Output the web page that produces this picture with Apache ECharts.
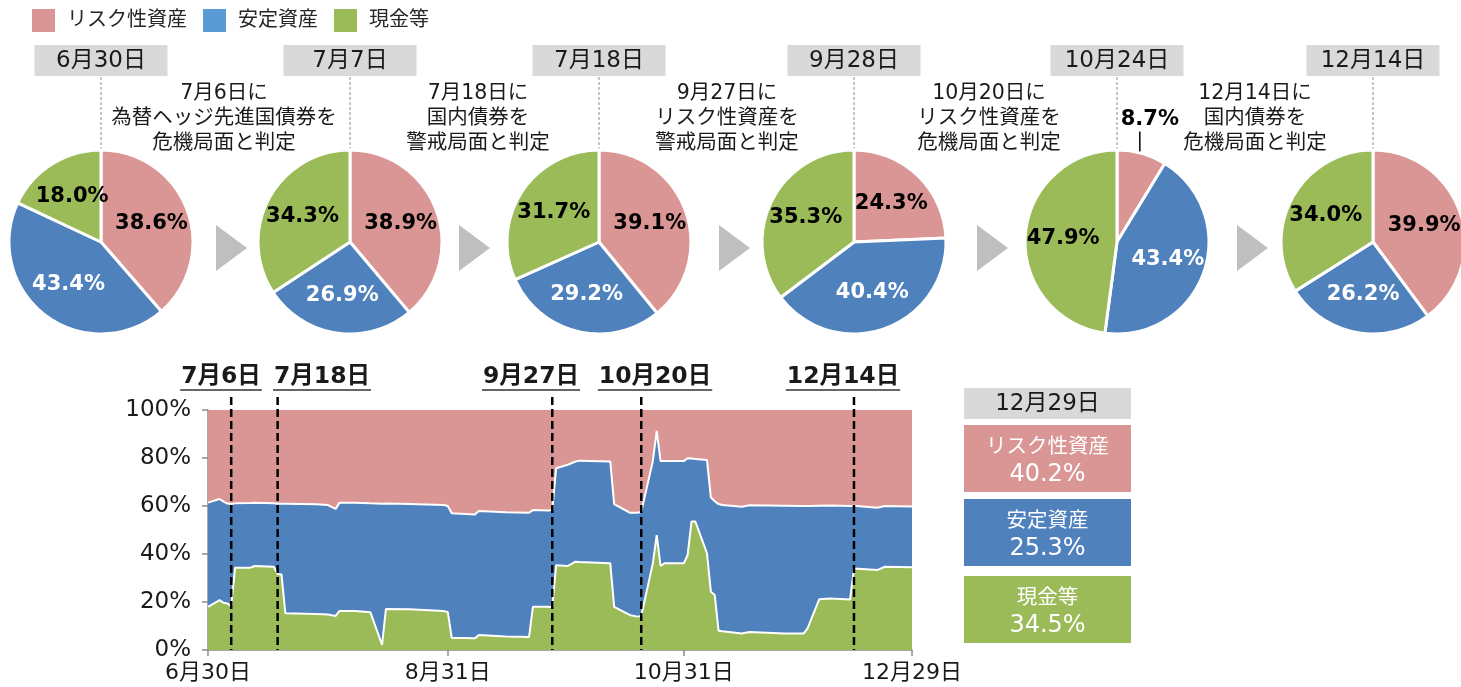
<!DOCTYPE html>
<html><head><meta charset="utf-8">
<script src="https://cdn.jsdelivr.net/npm/echarts@6/dist/echarts.min.js"></script>
<style>html,body{margin:0;padding:0;background:#fff;}#c{width:1461px;height:687px;}</style>
</head><body><div id="c"></div>
<script>
// ---------- DATA ----------
const seriesNames = ['リスク性資産', '安定資産', '現金等'];
const pieDates = ['6月30日', '7月7日', '7月18日', '9月28日', '10月24日', '12月14日'];
const pieRisk   = [38.6, 38.9, 39.1, 24.3, 8.7, 39.9];
const pieStable = [43.4, 26.9, 29.2, 40.4, 43.4, 26.2];
const pieCash   = [18.0, 34.3, 31.7, 35.3, 47.9, 34.0];
const notes = [
  '7月6日に\n為替ヘッジ先進国債券を\n危機局面と判定',
  '7月18日に\n国内債券を\n警戒局面と判定',
  '9月27日に\nリスク性資産を\n警戒局面と判定',
  '10月20日に\nリスク性資産を\n危機局面と判定',
  '12月14日に\n国内債券を\n危機局面と判定'
];
const dates = ['2023-06-30','2023-07-03','2023-07-04','2023-07-05','2023-07-06','2023-07-07','2023-07-11','2023-07-12','2023-07-17','2023-07-18','2023-07-19','2023-07-20','2023-07-28','2023-07-31','2023-08-02','2023-08-03','2023-08-07','2023-08-11','2023-08-14','2023-08-15','2023-08-21','2023-08-30','2023-08-31','2023-09-01','2023-09-07','2023-09-08','2023-09-15','2023-09-21','2023-09-22','2023-09-26','2023-09-27','2023-09-28','2023-10-01','2023-10-03','2023-10-04','2023-10-12','2023-10-13','2023-10-17','2023-10-19','2023-10-20','2023-10-23','2023-10-24','2023-10-25','2023-10-26','2023-10-31','2023-11-01','2023-11-02','2023-11-03','2023-11-06','2023-11-07','2023-11-08','2023-11-09','2023-11-10','2023-11-15','2023-11-17','2023-11-26','2023-12-01','2023-12-02','2023-12-05','2023-12-08','2023-12-13','2023-12-14','2023-12-20','2023-12-22','2023-12-29'];
const risk = [38.6,37.1,38.2,39.0,39.2,38.9,38.7,38.6,38.9,39.1,39.1,39.1,39.3,39.6,41.2,38.6,38.6,38.9,39.1,39.0,39.2,39.6,40.0,43.0,43.5,42.1,42.6,42.8,41.7,41.9,41.7,24.3,22.8,21.5,21.1,21.5,39.2,42.8,42.8,42.5,21.3,8.7,21.3,21.3,21.3,20.1,20.2,20.4,20.8,36.5,38.0,39.2,39.6,40.3,39.7,39.9,40.0,40.0,39.9,39.8,40.0,39.9,40.7,40.0,40.2];
const stable = [43.4,42.1,42.1,41.6,42.5,26.8,27.0,26.4,26.4,29.2,29.4,45.6,45.7,45.6,44.6,45.1,45.1,45.4,58.8,43.9,43.8,44.2,44.2,51.9,51.6,51.7,51.8,51.8,40.3,40.1,40.5,40.4,42.2,41.7,42.2,42.4,42.8,42.6,43.3,43.3,42.6,43.4,43.7,42.6,42.6,40.3,26.3,26.1,38.9,39.2,39.1,52.8,52.6,52.8,52.8,53.2,53.1,51.0,39.0,38.7,39.0,26.1,26.0,25.3,25.3];
const cash = [18.0,20.8,19.7,19.4,18.3,34.3,34.3,35.0,34.7,31.7,31.5,15.3,15.0,14.8,14.2,16.3,16.3,15.7,2.1,17.1,17.0,16.2,15.8,5.1,4.9,6.2,5.6,5.4,18.0,18.0,17.8,35.3,35.0,36.8,36.7,36.1,18.0,14.6,13.9,14.2,36.1,47.9,35.0,36.1,36.1,39.6,53.5,53.5,40.3,24.3,22.9,8.0,7.8,6.9,7.5,6.9,6.9,9.0,21.1,21.5,21.0,34.0,33.3,34.7,34.5];
const eventDates = ['2023-07-06','2023-07-18','2023-09-27','2023-10-20','2023-12-14'];
const eventLabels = ['7月6日','7月18日','9月27日','10月20日','12月14日'];
const xTickDates = ['2023-06-30','2023-08-31','2023-10-31','2023-12-29'];
const xTickLabels = ['6月30日','8月31日','10月31日','12月29日'];
const lastDateLabel = '12月29日';

// ---------- STYLE / LAYOUT ----------
const COL = { risk: '#DA9694', stable: '#4F81BD', cash: '#9BBB59', legendStable: '#5B9BD5' };
const FONT = '"DejaVu Sans", "Noto Sans CJK JP", sans-serif';
const TXT = '#1a1a1a';
const pieCX = [101, 350, 599, 854, 1117, 1373];
const pieCY = 242, pieR = 92;
const noteCX = [224, 478, 727, 989, 1255];
const arrowX = [216, 459, 719, 977, 1237];
const eventLabelCX = [221, 322, 531, 655, 843];

const dayOf = s => Math.round((Date.parse(s) - Date.parse(dates[0])) / 86400000);
const xTickDays = xTickDates.map(dayOf);
const r1 = v => Math.round(v * 10) / 10;

const chart = echarts.init(document.getElementById('c'), null, { renderer: 'canvas' });

// layered areas: each series' top edge is its cumulative share (cash at bottom)
function areaSeries(name, vals, color, z, lineW) {
  return {
    type: 'line', name, z,
    data: dates.map((d, i) => [dayOf(d), vals[i]]),
    symbol: 'none', showSymbol: false, clip: true,
    lineStyle: { color: lineW ? '#fff' : color, width: lineW },
    areaStyle: { color, opacity: 1, origin: 'start' },
    itemStyle: { color },
    emphasis: { disabled: true }, silent: true
  };
}
const cumStable = dates.map((d, i) => r1(cash[i] + stable[i]));
const cumRisk = dates.map((d, i) => r1(cash[i] + stable[i] + risk[i]));

const series = [
  areaSeries(seriesNames[0], cumRisk, COL.risk, 2, 0),
  areaSeries(seriesNames[1], cumStable, COL.stable, 3, 2),
  areaSeries(seriesNames[2], cash, COL.cash, 4, 2)
];

pieDates.forEach((pd, k) => {
  const c = [pieCX[k], pieCY];
  const small = pieRisk[k] < 15;
  series.push({
    type: 'pie', name: pd, center: c, radius: pieR, startAngle: 90, clockwise: true,
    silent: true, emphasis: { disabled: true },
    itemStyle: { borderColor: '#fff', borderWidth: 3 },
    label: { show: true, position: 'inside', formatter: p => p.value.toFixed(1) + '%',
      fontFamily: FONT, fontWeight: 'bold', fontSize: 21 },
    labelLine: { show: false },
    data: [
      { name: seriesNames[0], value: pieRisk[k], itemStyle: { color: COL.risk },
        label: small ? { color: '#000', position: 'outside' } : { color: '#000' },
        labelLine: small ? { show: true, length: 20, length2: 0, lineStyle: { color: '#000', width: 1.5 } } : { show: false } },
      { name: seriesNames[1], value: pieStable[k], itemStyle: { color: COL.stable }, label: { color: '#fff' } },
      { name: seriesNames[2], value: pieCash[k], itemStyle: { color: COL.cash }, label: { color: '#000' } }
    ],
    labelLayout: p => {
      const lr = p.labelRect;
      if (p.labelLinePoints && p.dataIndex === 0 && small) {
        const s = p.labelLinePoints[0];
        return { x: s[0] + 8, y: s[1] - 34, align: 'center', verticalAlign: 'middle',
          labelLinePoints: [[s[0] - 2, s[1] - 1], [s[0] - 2, s[1] - 22], [s[0] - 2, s[1] - 22]] };
      }
      const lx = lr.x + lr.width / 2, ly = lr.y + lr.height / 2;
      return { x: c[0] + (lx - c[0]) * 1.1, y: c[1] + (ly - c[1]) * 1.1, align: 'center', verticalAlign: 'middle' };
    }
  });
});

chart.setOption({
  animation: false,
  backgroundColor: '#fff',
  legend: {
    left: 32, top: 9, padding: 0, itemWidth: 23, itemHeight: 23, itemGap: 16, icon: 'rect', selectedMode: false,
    textStyle: { fontSize: 20, color: '#262626', fontFamily: FONT, padding: [0, 0, 0, 7] },
    data: [
      { name: seriesNames[0], itemStyle: { color: COL.risk, borderWidth: 0 } },
      { name: seriesNames[1], itemStyle: { color: COL.legendStable, borderWidth: 0 } },
      { name: seriesNames[2], itemStyle: { color: COL.cash, borderWidth: 0 } }
    ]
  },
  grid: { left: 208, right: 549, top: 410, bottom: 37, containLabel: false },
  xAxis: {
    type: 'value', min: 0, max: dayOf(dates[dates.length - 1]),
    axisLine: { show: true, lineStyle: { color: '#8c8c8c', width: 1.5 } },
    axisTick: { show: true, customValues: xTickDays, length: 6, lineStyle: { color: '#8c8c8c', width: 1.5 } },
    axisLabel: { customValues: xTickDays, formatter: v => xTickLabels[xTickDays.indexOf(v)], fontSize: 22, color: TXT, fontFamily: FONT, margin: 12 },
    splitLine: { show: false }
  },
  yAxis: {
    type: 'value', min: 0, max: 100, interval: 20,
    axisLine: { show: true, lineStyle: { color: '#8c8c8c', width: 1.5 } },
    axisTick: { show: true, length: 6, lineStyle: { color: '#8c8c8c', width: 1.5 } },
    axisLabel: { formatter: '{value}%', fontSize: 23, color: TXT, fontFamily: FONT, margin: 17 },
    splitLine: { show: false }
  },
  series
});

// ---------- GRAPHICS (headers, arrows, notes, boxes, event lines) ----------
const g = [];
pieDates.forEach((pd, k) => {
  const cx = pieCX[k];
  g.push({ type: 'rect', shape: { x: cx - 66.5, y: 45, width: 133, height: 31 }, style: { fill: '#D9D9D9' }, silent: true });
  g.push({ type: 'text', x: cx, y: 61, style: { text: pd, fill: TXT, font: '23px ' + FONT, textAlign: 'center', textVerticalAlign: 'middle' }, silent: true });
  g.push({ type: 'line', shape: { x1: cx, y1: 77, x2: cx, y2: 150 }, style: { stroke: '#8c8c8c', lineWidth: 1, lineDash: [3, 2] }, silent: true });
});
arrowX.forEach(x0 => {
  g.push({ type: 'polygon', shape: { points: [[x0, 225], [x0, 271], [x0 + 31, 248]] }, style: { fill: '#BFBFBF' }, silent: true });
});
notes.forEach((t, i) => {
  g.push({ type: 'text', x: noteCX[i], y: 119, style: { text: t, fill: TXT, font: '20.5px ' + FONT, lineHeight: 25, textAlign: 'center', textVerticalAlign: 'middle' }, silent: true });
});
const mctx = document.createElement('canvas').getContext('2d');
const evFont = 'bold 23.5px ' + FONT;
mctx.font = evFont;
eventLabels.forEach((t, i) => {
  const w = mctx.measureText(t).width;
  const cx = eventLabelCX[i];
  g.push({ type: 'text', x: cx, y: 377, style: { text: t, fill: TXT, font: evFont, textAlign: 'center', textVerticalAlign: 'middle' }, silent: true });
  g.push({ type: 'line', shape: { x1: cx - w / 2 - 1, y1: 390, x2: cx + w / 2 + 1, y2: 390 }, style: { stroke: '#333', lineWidth: 1.5 }, silent: true });
});
// dashed event lines positioned through the x axis scale
const yBottom = chart.convertToPixel({ yAxisIndex: 0 }, 0);
eventDates.forEach(d => {
  const x = chart.convertToPixel({ xAxisIndex: 0 }, dayOf(d));
  g.push({ type: 'line', z: 50, shape: { x1: x, y1: 397, x2: x, y2: yBottom }, style: { stroke: '#000', lineWidth: 2.5, lineDash: [8, 4] }, silent: true });
});
// right summary boxes
const boxX = 964, boxW = 167;
g.push({ type: 'rect', shape: { x: boxX, y: 388, width: boxW, height: 31 }, style: { fill: '#D9D9D9' }, silent: true });
g.push({ type: 'text', x: boxX + boxW / 2, y: 404, style: { text: lastDateLabel, fill: TXT, font: '23px ' + FONT, textAlign: 'center', textVerticalAlign: 'middle' }, silent: true });
const lastVals = [risk[risk.length - 1], stable[stable.length - 1], cash[cash.length - 1]];
const boxCols = [COL.risk, COL.stable, COL.cash];
const boxY = [425, 499, 576];
seriesNames.forEach((n, i) => {
  g.push({ type: 'rect', shape: { x: boxX, y: boxY[i], width: boxW, height: 67 }, style: { fill: boxCols[i] }, silent: true });
  g.push({ type: 'text', x: boxX + boxW / 2, y: boxY[i] + 36, style: {
    text: '{a|' + n + '}\n{b|' + lastVals[i].toFixed(1) + '%}', fill: '#fff', textAlign: 'center', textVerticalAlign: 'middle',
    rich: { a: { fontSize: 20.5, fontFamily: FONT, fill: '#fff', lineHeight: 27 }, b: { fontSize: 24, fontFamily: FONT, fill: '#fff', lineHeight: 27 } } }, silent: true });
});

chart.setOption({ graphic: { elements: g } });
</script></body></html>
